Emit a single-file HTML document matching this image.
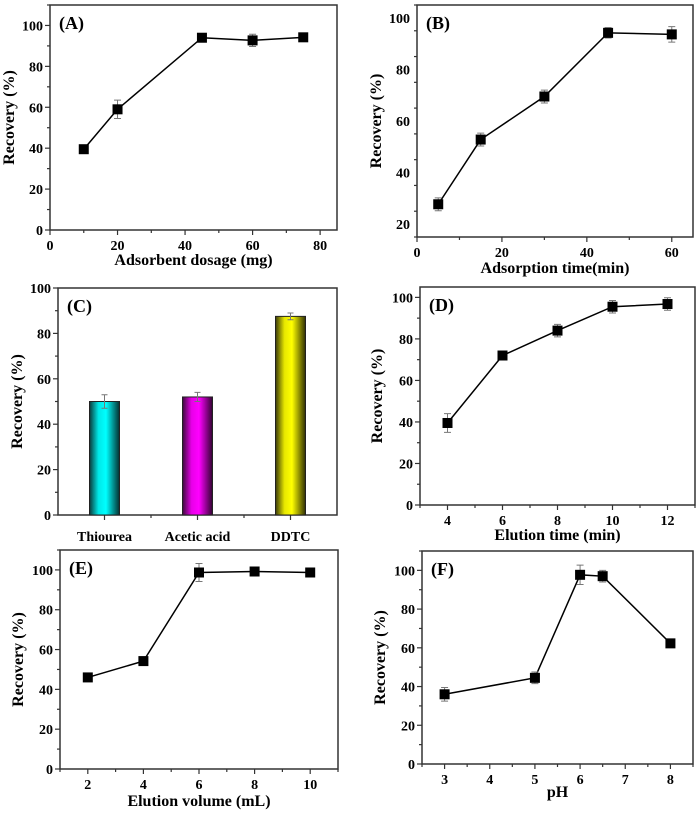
<!DOCTYPE html>
<html><head><meta charset="utf-8"><style>
html,body{margin:0;padding:0;background:#fff;}
svg{display:block;font-family:"Liberation Serif",serif;font-weight:bold;}
</style></head><body>
<svg id="fig" width="700" height="816" viewBox="0 0 700 816" xmlns="http://www.w3.org/2000/svg">
<defs>
<linearGradient id="gC" x1="0" x2="1"><stop offset="0" stop-color="#0a3a3a"/><stop offset="0.3" stop-color="#00e8e8"/><stop offset="0.55" stop-color="#00ffff"/><stop offset="1" stop-color="#043030"/></linearGradient>
<linearGradient id="gM" x1="0" x2="1"><stop offset="0" stop-color="#3a0a3a"/><stop offset="0.3" stop-color="#e800e8"/><stop offset="0.55" stop-color="#ff00ff"/><stop offset="1" stop-color="#300430"/></linearGradient>
<linearGradient id="gY" x1="0" x2="1"><stop offset="0" stop-color="#3a3a0a"/><stop offset="0.3" stop-color="#e8e800"/><stop offset="0.55" stop-color="#ffff00"/><stop offset="1" stop-color="#303004"/></linearGradient>
</defs>
</svg>
<script>
const aX=[10,20,45,60,75], aY=[39.5,59,94,92.7,94.2], aE=[1,4.5,1,3,1];
const bX=[5,15,30,45,60], bY=[27.7,52.8,69.5,94.2,93.6], bE=[2.5,2.5,2.5,2,3];
const cCats=["Thiourea","Acetic acid","DDTC"], cY=[50,52,87.5], cE=[3,2,1.5];
const dX=[4,6,8,10,12], dY=[39.5,72,84,95.5,96.8], dE=[4.5,1,3,3,3];
const eX=[2,4,6,8,10], eY=[46,54.2,98.7,99.2,98.7], eE=[0.5,0.8,4.5,1,1.5];
const fX=[3,5,6,6.5,8], fY=[36,44.5,97.7,97,62.3], fE=[3.5,3,5,3,1];
const aXT=[0,20,40,60,80], bXT=[0,20,40,60], dXT=[4,6,8,10,12], eXT=[2,4,6,8,10], fXT=[3,4,5,6,7,8];
const yT100=[0,20,40,60,80,100], yTB=[20,40,60,80,100];

const svg=document.getElementById('fig');
const NS="http://www.w3.org/2000/svg";
function mk(tag,attrs,parent,txt){const e=document.createElementNS(NS,tag);for(const k in attrs)e.setAttribute(k,attrs[k]);if(txt!==undefined)e.textContent=txt;(parent||svg).appendChild(e);return e;}

function panel(p){
  const g=mk('g',{});
  
  
  const sx=v=>p.L+(v-p.x0)/(p.x1-p.x0)*(p.R-p.L);
  const sy=v=>p.B-(v-p.y0)/(p.y1-p.y0)*(p.B-p.T);
  const fr=mk('rect',{x:p.L,y:p.T,width:p.R-p.L,height:p.B-p.T,fill:'none',stroke:'#333','stroke-width':1.5},g);
  
  
  for(let v=p.y0;v<=p.y1+1e-9;v+=10){
    const major=Math.abs(v%20)<1e-9;
    mk('line',{x1:p.L,x2:p.L-(major?5:3),y1:sy(v),y2:sy(v),stroke:'#333','stroke-width':1.2},g);
  }
  p.yt.forEach(v=>{const t=mk('text',{x:p.L-7,y:sy(v)+5,'text-anchor':'end','font-size':14},g,String(v));
    
    });
  if(p.cats){
    p.cats.forEach((c,i)=>{const x=sx(i+1);mk('line',{x1:x,x2:x,y1:p.B,y2:p.B+5,stroke:'#333','stroke-width':1.2},g);
      const t=mk('text',{x:x,y:p.B+26,'text-anchor':'middle','font-size':14},g,c);
      
      });
    for(let k=1.5;k<p.cats.length+0.5;k+=1){mk('line',{x1:sx(k),x2:sx(k),y1:p.B,y2:p.B+3,stroke:'#333','stroke-width':1.2},g);}
  } else {
    const st=p.xt[1]-p.xt[0];
    for(let v=p.xt[0]-st/2;v<=p.x1+1e-9;v+=st/2){ if(v<p.x0-1e-9)continue;
      const major=p.xt.some(m=>Math.abs(m-v)<1e-9);
      mk('line',{x1:sx(v),x2:sx(v),y1:p.B,y2:p.B+(major?5:3),stroke:'#333','stroke-width':1.2},g);}
    p.xt.forEach(v=>{const t=mk('text',{x:sx(v),y:p.B+20,'text-anchor':'middle','font-size':14},g,String(v));
      
      });
  }
  const xt=mk('text',{x:(p.L+p.R)/2,y:p.xty,'text-anchor':'middle','font-size':16},g,p.xtitle);
  
  
  const cy=(p.T+p.B)/2;
  const yt=mk('text',{x:p.ytx,y:cy,'text-anchor':'middle','font-size':16,transform:`rotate(-90 ${p.ytx} ${cy})`},g,'Recovery (%)');
  
  
  const lb=mk('text',{x:p.L+9,y:p.T+24,'font-size':18},g,'('+p.id+')');
  
  
  if(p.cats){
    const fills=['url(#gC)','url(#gM)','url(#gY)'];
    p.ys.forEach((v,i)=>{const x=sx(i+1);
      const r=mk('rect',{x:x-15,y:sy(v),width:30,height:p.B-sy(v),fill:fills[i],stroke:'#222','stroke-width':1},g);
      
      
      const e=p.es[i];
      mk('path',{d:`M${x} ${sy(v+e)}V${sy(v-e)}M${x-3} ${sy(v+e)}H${x+3}M${x-3} ${sy(v-e)}H${x+3}`,stroke:'#777','stroke-width':1,fill:'none'},g);});
  } else {
    const d=p.xs.map((v,i)=>(i?'L':'M')+sx(v)+' '+sy(p.ys[i])).join('');
    const ln=mk('path',{d:d,fill:'none',stroke:'#000','stroke-width':1.5},g);
    
    
    p.xs.forEach((v,i)=>{const x=sx(v),y=p.ys[i],e=p.es[i];
      mk('path',{d:`M${x} ${sy(y+e)}V${sy(y-e)}M${x-3.5} ${sy(y+e)}H${x+3.5}M${x-3.5} ${sy(y-e)}H${x+3.5}`,stroke:'#777','stroke-width':1,fill:'none'},g);
      const m=mk('rect',{x:x-5,y:sy(y)-5,width:10,height:10,fill:'#000'},g);
      
      });
  }
}
panel({id:'A',L:50,R:337,T:5,B:230,x0:0,x1:85,y0:0,y1:110,xt:aXT,yt:yT100,xs:aX,ys:aY,es:aE,xtitle:'Adsorbent dosage (mg)',xty:265,ytx:14});
panel({id:'B',L:417,R:693,T:5,B:237,x0:0,x1:65,y0:15,y1:105,xt:bXT,yt:yTB,xs:bX,ys:bY,es:bE,xtitle:'Adsorption time(min)',xty:273,ytx:381});
panel({id:'C',L:58,R:337,T:288,B:515,x0:0.5,x1:3.5,y0:0,y1:100,cats:cCats,yt:yT100,ys:cY,es:cE,xtitle:'',xty:0,ytx:22});
panel({id:'D',L:420,R:695,T:287,B:505,x0:3,x1:13,y0:0,y1:105,xt:dXT,yt:yT100,xs:dX,ys:dY,es:dE,xtitle:'Elution time (min)',xty:540,ytx:382});
panel({id:'E',L:60,R:338,T:550,B:769,x0:1,x1:11,y0:0,y1:110,xt:eXT,yt:yT100,xs:eX,ys:eY,es:eE,xtitle:'Elution volume (mL)',xty:806,ytx:23});
panel({id:'F',L:422,R:693,T:551,B:764,x0:2.5,x1:8.5,y0:0,y1:110,xt:fXT,yt:yT100,xs:fX,ys:fY,es:fE,xtitle:'pH',xty:797,ytx:385});
</script>
</body></html>
